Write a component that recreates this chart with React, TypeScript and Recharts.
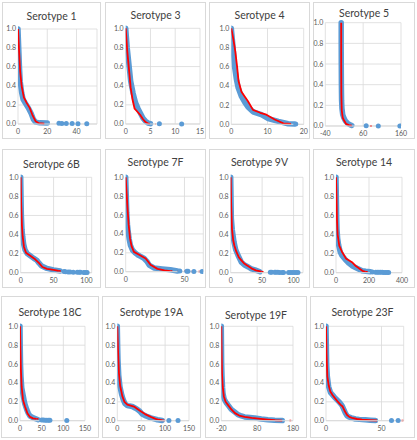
import React from "react";
import { CartesianGrid, Line, LineChart, XAxis, YAxis } from "recharts";

type Pt = [number, number];

const BLUE = "#5B9BD5";
const RED = "#FF0000";
const GRID = "#D9D9D9";
const TEXT = "#595959";
const FONT = "Lato, 'Liberation Sans', Arial, sans-serif";

const titles = [
  "Serotype 1", "Serotype 3", "Serotype 4", "Serotype 5",
  "Serotype 6B", "Serotype 7F", "Serotype 9V", "Serotype 14",
  "Serotype 18C", "Serotype 19A", "Serotype 19F", "Serotype 23F",
];

const yTicks = [0, 0.2, 0.4, 0.6, 0.8, 1.0];

const xTicks1 = [0, 20, 40];
const xTicks3 = [0, 5, 10, 15];
const xTicks4 = [0, 10, 20];
const xTicks5 = [-40, 60, 160];
const xTicks6B = [0, 50, 100];
const xTicks7F = [0, 50];
const xTicks9V = [0, 50, 100];
const xTicks14 = [0, 200, 400];
const xTicks18C = [0, 50, 100, 150];
const xTicks19A = [0, 50, 100, 150];
const xTicks19F = [-20, 80, 180];
const xTicks23F = [0, 50];

// observed (blue) and fitted (red) reverse cumulative curves
const sero1Obs: Pt[] = [[0, 1], [0.5, 0.8], [1, 0.6], [1.5, 0.45], [2.5, 0.33], [3.5, 0.26], [5, 0.22], [7, 0.17], [9, 0.11], [10.5, 0.05], [12, 0.02], [15, 0.012], [20, 0.01]];
const sero1ObsTail: Pt[] = [[28, 0.008], [30, 0.006], [33, 0.005], [37, 0.004], [41, 0.003], [47, 0.002]];
const sero1Fit: Pt[] = [[0, 1], [0.8, 0.75], [1.5, 0.55], [2.5, 0.4], [4, 0.28], [6, 0.22], [8, 0.17], [10, 0.09], [12, 0.03], [14, 0.01], [18, 0.005]];
const sero1FitTail: Pt[] = [];

const sero3Obs: Pt[] = [[0, 1], [0.3, 0.8], [0.7, 0.6], [1, 0.45], [1.5, 0.32], [2, 0.22], [2.5, 0.16], [3, 0.11], [3.5, 0.06], [4, 0.03], [4.5, 0.01], [5, 0.003]];
const sero3ObsTail: Pt[] = [[6.8, 0.002], [11.3, 0.001]];
const sero3Fit: Pt[] = [[0, 1], [0.3, 0.77], [0.7, 0.55], [1, 0.38], [1.4, 0.25], [1.8, 0.16], [2.5, 0.12], [3, 0.09], [3.5, 0.05], [4, 0.02], [4.5, 0.005]];
const sero3FitTail: Pt[] = [[4.5, 0.005], [6, 0.001]];

const sero4Obs: Pt[] = [[0, 1], [0.5, 0.8], [0.9, 0.6], [1.4, 0.47], [1.9, 0.38], [2.8, 0.29], [3.7, 0.23], [4.6, 0.18], [6, 0.13], [8.3, 0.1], [10.2, 0.06], [13, 0.03], [15.7, 0.006], [17.4, 0.002]];
const sero4ObsTail: Pt[] = [[17.8, 0.002]];
const sero4Fit: Pt[] = [[0, 1], [0.6, 0.88], [1.1, 0.76], [1.6, 0.6], [2, 0.45], [2.8, 0.34], [4.6, 0.24], [6, 0.15], [8, 0.12], [9.7, 0.1], [12, 0.05], [14.4, 0.01], [16.5, 0.003]];
const sero4FitTail: Pt[] = [];

const sero5Obs: Pt[] = [[2, 1], [2, 0.8], [2.2, 0.6], [2.5, 0.4], [3, 0.25], [4, 0.17], [6, 0.11], [9, 0.08], [13, 0.05], [18, 0.03], [24, 0.015], [30, 0.005]];
const sero5ObsTail: Pt[] = [[68, 0.002], [100, 0.001], [157, 0.001]];
const sero5Fit: Pt[] = [[2, 1], [2, 0.6], [2.4, 0.3], [3.5, 0.15], [6, 0.08], [10, 0.05], [15, 0.02], [22, 0.008], [30, 0.003]];
const sero5FitTail: Pt[] = [[78, 0.001], [86, 0.001]];

const sero6BObs: Pt[] = [[0, 1], [0.5, 0.8], [1, 0.6], [2, 0.45], [3, 0.38], [4.5, 0.3], [6.6, 0.24], [10, 0.2], [14, 0.18], [20, 0.15], [24.5, 0.13], [28, 0.1], [32, 0.07], [40, 0.045], [50, 0.03], [60, 0.018]];
const sero6BObsTail: Pt[] = [[66, 0.012], [68, 0.01], [72, 0.008], [75, 0.007], [80, 0.006], [86, 0.005], [89, 0.004], [91, 0.004], [96, 0.003], [98, 0.003], [101, 0.002]];
const sero6BFit: Pt[] = [[0, 1], [0.8, 0.7], [1.8, 0.5], [3, 0.38], [5, 0.27], [8, 0.21], [14, 0.18], [22, 0.14], [28, 0.1], [33, 0.06], [40, 0.04], [50, 0.03], [58, 0.02]];
const sero6BFitTail: Pt[] = [[58, 0.02], [105, 0.001]];

const sero7FObs: Pt[] = [[0, 1], [0.5, 0.8], [0.9, 0.63], [1.5, 0.5], [2.2, 0.42], [2.9, 0.35], [4, 0.28], [5.7, 0.23], [8, 0.2], [10, 0.18], [13, 0.16], [15.7, 0.14], [18, 0.11], [20, 0.07], [24, 0.04], [31, 0.03], [38, 0.02], [44, 0.008]];
const sero7FObsTail: Pt[] = [[46, 0.007], [52, 0.004], [53, 0.004], [58, 0.003], [65, 0.002]];
const sero7FFit: Pt[] = [[0, 1], [0.7, 0.85], [1.4, 0.7], [2.5, 0.5], [3.7, 0.35], [5, 0.27], [7, 0.21], [11.4, 0.18], [17, 0.14], [21.4, 0.07], [27, 0.03], [33, 0.015], [38, 0.007]];
const sero7FFitTail: Pt[] = [[38, 0.007], [65, 0.001]];

const sero9VObs: Pt[] = [[0, 1], [0.5, 0.8], [1, 0.57], [2.5, 0.45], [5.3, 0.32], [8, 0.24], [11.8, 0.18], [17, 0.11], [22, 0.08], [28, 0.06], [33, 0.04], [38.5, 0.03], [46.5, 0.01]];
const sero9VObsTail: Pt[] = [[63, 0.006], [65, 0.005], [70, 0.004], [72, 0.004], [75, 0.004], [78, 0.003], [82, 0.003], [84, 0.003], [92, 0.002], [95, 0.002], [98, 0.001], [101, 0.001], [104, 0.001], [107, 0.001]];
const sero9VFit: Pt[] = [[0, 1], [0.8, 0.7], [2, 0.46], [4, 0.34], [6, 0.28], [9, 0.22], [13, 0.16], [17, 0.13], [21, 0.1], [25, 0.08], [33, 0.046], [40, 0.025], [49, 0.01]];
const sero9VFitTail: Pt[] = [[49, 0.01], [110, 0.001]];

const sero14Obs: Pt[] = [[0, 1], [2, 0.8], [4, 0.6], [6, 0.46], [10, 0.36], [16, 0.29], [25, 0.22], [36, 0.18], [55, 0.14], [77, 0.1], [100, 0.07], [127, 0.046], [158, 0.02], [180, 0.015], [208, 0.01]];
const sero14ObsTail: Pt[] = [[220, 0.008], [240, 0.006], [250, 0.006], [260, 0.005], [270, 0.004], [280, 0.004], [290, 0.003], [300, 0.002], [310, 0.002], [319, 0.001]];
const sero14Fit: Pt[] = [[0, 1], [3, 0.8], [6, 0.55], [10, 0.4], [20, 0.28], [36, 0.22], [60, 0.15], [97, 0.11], [120, 0.07], [137, 0.05], [160, 0.02], [180, 0.01]];
const sero14FitTail: Pt[] = [[180, 0.01], [320, 0.001]];

const sero18CObs: Pt[] = [[0, 1], [0.5, 0.8], [1.2, 0.6], [2.3, 0.47], [4, 0.35], [7.7, 0.26], [11, 0.18], [15.4, 0.12], [19, 0.08], [23, 0.05], [31, 0.03], [42, 0.01]];
const sero18CObsTail: Pt[] = [[50, 0.008], [54, 0.007], [58, 0.006], [62, 0.005], [66, 0.004], [69, 0.004], [108, 0.001]];
const sero18CFit: Pt[] = [[0, 1], [1, 0.75], [2, 0.55], [3.8, 0.36], [7, 0.22], [11.5, 0.15], [17, 0.08], [23, 0.04], [30, 0.025], [38, 0.02]];
const sero18CFitTail: Pt[] = [[38, 0.02], [70, 0.003]];

const sero19AObs: Pt[] = [[0, 1], [0.7, 0.8], [1.4, 0.65], [3, 0.48], [5.6, 0.36], [9, 0.28], [12.6, 0.22], [16, 0.18], [21, 0.16], [26, 0.155], [31.5, 0.15], [37, 0.135], [42, 0.12], [47, 0.1], [52, 0.07], [60, 0.05], [70, 0.03], [84, 0.01], [94, 0.003]];
const sero19AObsTail: Pt[] = [[108, 0.002], [127, 0.001]];
const sero19AFit: Pt[] = [[0, 1], [1.5, 0.75], [3.5, 0.5], [6, 0.37], [10.5, 0.26], [15, 0.2], [21, 0.17], [28, 0.16], [35, 0.15], [42, 0.125], [49, 0.1], [58, 0.07], [70, 0.04], [80, 0.02], [87, 0.01], [95, 0.004]];
const sero19AFitTail: Pt[] = [[95, 0.004], [102, 0.002]];

const sero19FObs: Pt[] = [[-20, 1], [-19.5, 0.8], [-19, 0.6], [-18, 0.47], [-16.5, 0.35], [-15.3, 0.29], [-12, 0.23], [-6, 0.19], [0, 0.16], [7.9, 0.12], [18, 0.09], [26.5, 0.064], [36, 0.05], [45, 0.04], [60, 0.035], [73, 0.03], [91.6, 0.018], [110, 0.01], [129, 0.004], [150, 0.001]];
const sero19FObsTail: Pt[] = [];
const sero19FFit: Pt[] = [[-20, 1], [-19, 0.7], [-18, 0.5], [-16, 0.36], [-13, 0.26], [-8, 0.2], [0, 0.16], [8, 0.12], [18, 0.08], [30, 0.055], [45, 0.04], [65, 0.03], [90, 0.02], [110, 0.012], [130, 0.005], [150, 0.001]];
const sero19FFitTail: Pt[] = [[170, 0.001], [175, 0.001]];

const sero23FObs: Pt[] = [[0, 1], [0.3, 0.8], [0.6, 0.6], [1.2, 0.47], [2.4, 0.36], [4, 0.3], [5.4, 0.28], [7.5, 0.25], [10, 0.22], [12.5, 0.19], [14.5, 0.16], [16, 0.12], [17.5, 0.08], [19, 0.05], [20.5, 0.04], [23, 0.03], [26.5, 0.018], [30, 0.014], [35.5, 0.01], [40, 0.006], [44.6, 0.002]];
const sero23FObsTail: Pt[] = [[59, 0.001], [65, 0.001]];
const sero23FFit: Pt[] = [[0, 1], [0.5, 0.7], [1.2, 0.47], [2.5, 0.37], [3.9, 0.31], [6, 0.27], [10, 0.21], [13, 0.17], [15, 0.15], [17, 0.1], [19, 0.06], [21, 0.04], [23.5, 0.03], [28, 0.018], [32.5, 0.01], [40, 0.005], [46, 0.002]];
const sero23FFitTail: Pt[] = [[68, 0.001], [71, 0.001]];

type Spec = {
  title: string;
  obs: Pt[];
  obsTail: Pt[];
  fit: Pt[];
  fitTail: Pt[];
  ticks: number[];
  domain: [number, number];
};

const specs: Spec[] = [
  { title: titles[0], obs: sero1Obs, obsTail: sero1ObsTail, fit: sero1Fit, fitTail: sero1FitTail, ticks: xTicks1, domain: [0, 54] },
  { title: titles[1], obs: sero3Obs, obsTail: sero3ObsTail, fit: sero3Fit, fitTail: sero3FitTail, ticks: xTicks3, domain: [0, 15] },
  { title: titles[2], obs: sero4Obs, obsTail: sero4ObsTail, fit: sero4Fit, fitTail: sero4FitTail, ticks: xTicks4, domain: [0, 20] },
  { title: titles[3], obs: sero5Obs, obsTail: sero5ObsTail, fit: sero5Fit, fitTail: sero5FitTail, ticks: xTicks5, domain: [-40, 160] },
  { title: titles[4], obs: sero6BObs, obsTail: sero6BObsTail, fit: sero6BFit, fitTail: sero6BFitTail, ticks: xTicks6B, domain: [0, 108] },
  { title: titles[5], obs: sero7FObs, obsTail: sero7FObsTail, fit: sero7FFit, fitTail: sero7FFitTail, ticks: xTicks7F, domain: [0, 66] },
  { title: titles[6], obs: sero9VObs, obsTail: sero9VObsTail, fit: sero9VFit, fitTail: sero9VFitTail, ticks: xTicks9V, domain: [0, 115] },
  { title: titles[7], obs: sero14Obs, obsTail: sero14ObsTail, fit: sero14Fit, fitTail: sero14FitTail, ticks: xTicks14, domain: [0, 400] },
  { title: titles[8], obs: sero18CObs, obsTail: sero18CObsTail, fit: sero18CFit, fitTail: sero18CFitTail, ticks: xTicks18C, domain: [0, 150] },
  { title: titles[9], obs: sero19AObs, obsTail: sero19AObsTail, fit: sero19AFit, fitTail: sero19AFitTail, ticks: xTicks19A, domain: [0, 150] },
  { title: titles[10], obs: sero19FObs, obsTail: sero19FObsTail, fit: sero19FFit, fitTail: sero19FFitTail, ticks: xTicks19F, domain: [-20, 180] },
  { title: titles[11], obs: sero23FObs, obsTail: sero23FObsTail, fit: sero23FFit, fitTail: sero23FFitTail, ticks: xTicks23F, domain: [0, 70] },
];

// page layout: panel box [l, t, r, b], plot area [l, t, r, b], title centre y
type Frame = { box: number[]; plot: number[]; titleY: number };
const frames: Frame[] = [
  { box: [2, 2, 101, 139], plot: [18, 29, 97, 124], titleY: 16 },
  { box: [105, 2, 206, 139], plot: [125.7, 28.3, 200, 124], titleY: 15 },
  { box: [209, 2, 310, 139], plot: [231.3, 28.3, 303.7, 124.3], titleY: 15 },
  { box: [313, 2, 415, 139], plot: [325.3, 22.7, 401, 126], titleY: 12.7 },
  { box: [2, 149, 101, 288], plot: [20.7, 177.3, 91.7, 272.7], titleY: 164.3 },
  { box: [105, 149, 206, 288], plot: [125.7, 177.3, 203.3, 271.7], titleY: 161.7 },
  { box: [209, 149, 310, 288], plot: [230.7, 177.3, 303, 272.7], titleY: 161.7 },
  { box: [313, 149, 415, 288], plot: [336, 177.3, 402, 272.7], titleY: 161.7 },
  { box: [1, 296, 99, 438], plot: [20, 326.3, 85, 420.7], titleY: 312.3 },
  { box: [102, 296, 201, 438], plot: [117.3, 326.3, 189, 420.7], titleY: 312.3 },
  { box: [205, 296, 307, 438], plot: [221.3, 326.3, 293, 420.7], titleY: 314.7 },
  { box: [310, 296, 415, 438], plot: [326, 326.3, 403.7, 420.7], titleY: 312.3 },
];

const rows = (pts: Pt[]) => pts.map(([x, y]) => ({ x, y }));

const tickStyle = { fontSize: 7, fill: TEXT, fontFamily: FONT };

function Panel({ spec, frame }: { spec: Spec; frame: Frame }) {
  const [l, t, r, b] = frame.box;
  const [pl, pt, pr, pb] = frame.plot;
  const w = r - l;
  const h = b - t;

  return (
    <div
      style={{
        position: "absolute",
        left: l,
        top: t,
        width: w,
        height: h,
        outline: `1px solid ${GRID}`,
        outlineOffset: -1,
        background: "#fff",
      }}
    >
      <LineChart
        width={w}
        height={h}
        margin={{ top: pt - t, right: r - pr, bottom: 0, left: 0 }}
      >
        <CartesianGrid stroke={GRID} strokeWidth={0.8} />
        <XAxis
          type="number"
          dataKey="x"
          domain={spec.domain}
          ticks={spec.ticks}
          interval={0}
          allowDataOverflow
          height={b - pb}
          axisLine={{ stroke: GRID }}
          tickLine={false}
          tickSize={0}
          tickMargin={5}
          tick={tickStyle}
        />
        <YAxis
          type="number"
          domain={[0, 1]}
          ticks={yTicks}
          interval={0}
          width={pl - l}
          axisLine={false}
          tickLine={false}
          tickSize={0}
          tickMargin={2}
          tick={tickStyle}
          tickFormatter={(v: number) => v.toFixed(1)}
        />
        <Line
          data={rows(spec.obs)}
          dataKey="y"
          type="linear"
          stroke={BLUE}
          strokeWidth={5.5}
          strokeLinecap="round"
          strokeLinejoin="round"
          dot={false}
          activeDot={false}
          isAnimationActive={false}
        />
        <Line
          data={rows(spec.obsTail)}
          dataKey="y"
          stroke="none"
          dot={{ r: 2.5, fill: BLUE, stroke: BLUE, strokeWidth: 0 }}
          activeDot={false}
          isAnimationActive={false}
        />
        <Line
          data={rows(spec.fit)}
          dataKey="y"
          type="linear"
          stroke={RED}
          strokeWidth={1.8}
          strokeLinejoin="round"
          dot={false}
          activeDot={false}
          isAnimationActive={false}
        />
        <Line
          data={rows(spec.fitTail)}
          dataKey="y"
          type="linear"
          stroke={RED}
          strokeWidth={1.5}
          strokeDasharray="2 5"
          dot={false}
          activeDot={false}
          isAnimationActive={false}
        />
      </LineChart>
      <div
        style={{
          position: "absolute",
          left: 0,
          width: w,
          top: frame.titleY - t - 7,
          height: 14,
          lineHeight: "14px",
          textAlign: "center",
          fontSize: 10.5,
          color: "#404040",
          fontFamily: FONT,
          pointerEvents: "none",
        }}
      >
        {spec.title}
      </div>
    </div>
  );
}

export default function App() {
  return (
    <div
      style={{
        position: "absolute",
        left: 0,
        top: 0,
        width: 417,
        height: 440,
        background: "#fff",
        overflow: "hidden",
      }}
    >
      {specs.map((spec, i) => (
        <Panel key={spec.title} spec={spec} frame={frames[i]} />
      ))}
    </div>
  );
}
